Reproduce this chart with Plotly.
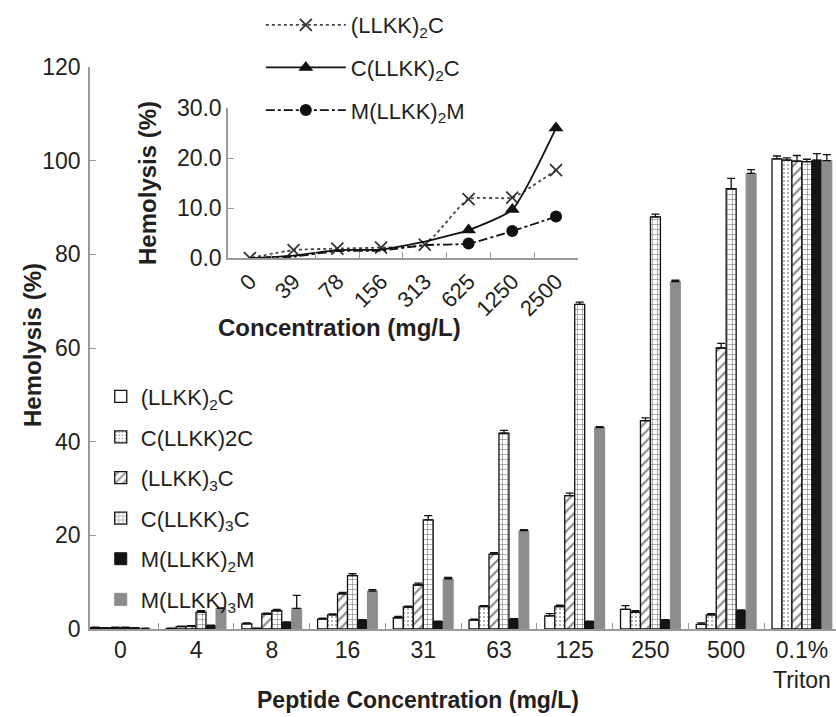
import plotly.graph_objects as go

FONT = "Liberation Sans, Arial, sans-serif"
TXT = "#231f20"

# ---- main bar chart data ----
categories = ["0", "4", "8", "16", "31", "63", "125", "250", "500", "0.1%<br>Triton"]
series_names = ["(LLKK)<sub>2</sub>C", "C(LLKK)2C", "(LLKK)<sub>3</sub>C",
                "C(LLKK)<sub>3</sub>C", "M(LLKK)<sub>2</sub>M", "M(LLKK)<sub>3</sub>M"]

llkk2c = [0.3, 0.1, 1.1, 2.1, 2.4, 1.9, 2.8, 4.2, 1.0, 100.4]
c_llkk2c = [0.2, 0.5, 0.1, 3.0, 4.7, 4.8, 4.8, 3.6, 3.0, 100.1]
llkk3c = [0.3, 0.6, 3.2, 7.5, 9.4, 16.0, 28.5, 44.5, 60.0, 99.9]
c_llkk3c = [0.3, 3.6, 3.9, 11.4, 23.3, 41.8, 69.3, 88.0, 94.0, 99.8]
m_llkk2m = [0.2, 0.7, 1.4, 1.9, 1.6, 2.1, 1.6, 1.9, 3.9, 100.1]
m_llkk3m = [0.1, 4.4, 4.4, 8.1, 10.7, 21.0, 43.0, 74.2, 97.3, 100.0]

err_llkk2c = [0.1, 0.1, 0.2, 0.2, 0.3, 0.2, 0.5, 0.8, 0.3, 0.6]
err_c_llkk2c = [0.1, 0.1, 0.1, 0.2, 0.2, 0.2, 0.3, 0.3, 0.3, 0.5]
err_llkk3c = [0.1, 0.1, 0.2, 0.3, 0.4, 0.3, 0.5, 0.6, 1.0, 1.2]
err_c_llkk3c = [0.1, 0.3, 0.3, 0.4, 0.9, 0.6, 0.5, 0.6, 2.2, 0.5]
err_m_llkk2m = [0.1, 0.1, 0.1, 0.1, 0.1, 0.1, 0.1, 0.1, 0.2, 1.4]
err_m_llkk3m = [0.1, 0.1, 2.8, 0.3, 0.3, 0.2, 0.2, 0.3, 0.8, 1.3]

# ---- inset line chart data ----
inset_categories = ["0", "39", "78", "156", "313", "625", "1250", "2500"]
inset_names = ["(LLKK)<sub>2</sub>C", "C(LLKK)<sub>2</sub>C", "M(LLKK)<sub>2</sub>M"]
inset_llkk2c = [0.0, 1.6, 1.9, 2.1, 2.7, 11.8, 12.1, 17.6]
inset_c_llkk2c = [0.0, 0.5, 1.6, 1.7, 3.3, 5.6, 9.7, 26.0]
inset_m_llkk2m = [0.0, 0.3, 1.4, 1.5, 2.6, 2.9, 5.4, 8.3]

fig = go.Figure()

bar_values = [llkk2c, c_llkk2c, llkk3c, c_llkk3c, m_llkk2m, m_llkk3m]
bar_errs = [err_llkk2c, err_c_llkk2c, err_llkk3c, err_c_llkk3c, err_m_llkk2m, err_m_llkk3m]
styles = [
    dict(color="white", line=dict(color="#111", width=1.3), pattern=dict(shape="")),
    dict(color="white", line=dict(color="#111", width=1.3),
         pattern=dict(shape=".", fgcolor="#333", bgcolor="white", size=4, solidity=0.2)),
    dict(color="white", line=dict(color="#111", width=1.3),
         pattern=dict(shape="/", fgcolor="#111", bgcolor="white", size=7, solidity=0.3)),
    dict(color="white", line=dict(color="#111", width=1.3),
         pattern=dict(shape="+", fgcolor="#111", bgcolor="white", size=5, solidity=0.25)),
    dict(color="#141414", line=dict(color="#141414", width=1)),
    dict(color="#8c8c8e", line=dict(color="#8c8c8e", width=1)),
]

for i, (name, vals, errs, st) in enumerate(zip(series_names, bar_values, bar_errs, styles)):
    fig.add_trace(go.Bar(
        x=categories, y=vals, name=name, marker=st,
        legendgroup=f"g{i}", legend="legend",
        error_y=dict(type="data", array=errs, arrayminus=[0] * len(errs), symmetric=False,
                     color="#111", thickness=1.3, width=4),
        xaxis="x", yaxis="y",
    ))

# markers of the 2nd and 3rd series are only shown for the three highest concentrations;
# points are passed in reverse order so the legend picks up a visible marker colour
TRANSP = "rgba(0,0,0,0)"
line_specs = [
    (inset_llkk2c, dict(dash="dot", width=1.8, color="#444"),
     dict(symbol="x-thin", size=12), ["#333"] * 8),
    (inset_c_llkk2c, dict(dash="solid", width=1.8, color="#111"),
     dict(symbol="triangle-up", size=13), ["#111"] * 3 + [TRANSP] * 5),
    (inset_m_llkk2m, dict(dash="dashdot", width=1.8, color="#111"),
     dict(symbol="circle", size=12), ["#111"] * 3 + [TRANSP] * 5),
]
for j, (name, (vals, ln, mk, colors)) in enumerate(zip(inset_names, line_specs)):
    mk = dict(mk)
    mk["color"] = colors
    if mk["symbol"] == "x-thin":
        mk["line"] = dict(width=1.8, color=colors)
    else:
        mk["line"] = dict(width=0)
    fig.add_trace(go.Scatter(
        x=inset_categories[::-1], y=vals[::-1], name=name, mode="lines+markers",
        line=dict(shape="spline", smoothing=0.5, **ln), marker=mk,
        legend="legend2", legendgroup=f"l{j}",
        xaxis="x2", yaxis="y2",
    ))

fig.update_layout(
    width=836, height=717,
    margin=dict(l=90, r=0, t=67, b=88, autoexpand=False),
    paper_bgcolor="white", plot_bgcolor="rgba(0,0,0,0)",
    font=dict(family=FONT, color=TXT, size=22),
    barmode="group", bargap=0.21, bargroupgap=0,
    showlegend=True,
    xaxis=dict(
        domain=[0, 1], type="category", range=[-0.4, 9.45],
        showline=True, linecolor="#9a9a9a", linewidth=1.5,
        ticks="inside", tickson="boundaries", ticklen=6, tickcolor="#9a9a9a",
        tickfont=dict(size=23, color=TXT), showgrid=False,
    ),
    yaxis=dict(
        domain=[0, 1], range=[0, 120], dtick=20,
        showline=True, linecolor="#9a9a9a", linewidth=1.5,
        ticks="inside", ticklen=6, tickcolor="#9a9a9a", ticklabelstandoff=3,
        tickfont=dict(size=23, color=TXT), showgrid=False, zeroline=False,
    ),
    xaxis2=dict(
        domain=[0.185, 0.654], anchor="y2", type="category", range=[-0.5, 7.5],
        categoryorder="array", categoryarray=inset_categories,
        showline=True, linecolor="#9a9a9a", linewidth=1.5,
        ticks="inside", tickson="boundaries", ticklen=6, tickcolor="#9a9a9a",
        tickangle=-45, tickfont=dict(size=22, color=TXT), showgrid=False,
    ),
    yaxis2=dict(
        domain=[0.66, 0.927], anchor="x2", range=[0, 30], dtick=10, tickformat=".1f",
        showline=True, linecolor="#9a9a9a", linewidth=1.5,
        ticks="inside", ticklen=6, tickcolor="#9a9a9a",
        tickfont=dict(size=23, color=TXT), showgrid=False, zeroline=False,
    ),
    legend=dict(
        x=0.0144, y=0.451, xanchor="left", yanchor="top",
        bgcolor="rgba(0,0,0,0)", font=dict(size=22, color=TXT),
        tracegroupgap=9, traceorder="grouped",
    ),
    legend2=dict(
        x=0.229, y=1.112, xanchor="left", yanchor="top",
        bgcolor="rgba(0,0,0,0)", font=dict(size=22, color=TXT),
        tracegroupgap=11, itemwidth=80, traceorder="grouped",
    ),
    annotations=[
        dict(text="<b>Peptide Concentration (mg/L)</b>", xref="paper", yref="paper",
             x=0.44, y=-0.126, xanchor="center", yanchor="middle", showarrow=False,
             font=dict(size=23, color=TXT)),
        dict(text="<b>Hemolysis (%)</b>", xref="paper", yref="paper", textangle=-90,
             x=-0.078, y=0.505, xanchor="center", yanchor="middle", showarrow=False,
             font=dict(size=24, color=TXT)),
        dict(text="<b>Concentration (mg/L)</b>", xref="paper", yref="paper",
             x=0.335, y=0.537, xanchor="center", yanchor="middle", showarrow=False,
             font=dict(size=24, color=TXT)),
        dict(text="<b>Hemolysis (%)</b>", xref="paper", yref="paper", textangle=-90,
             x=0.078, y=0.794, xanchor="center", yanchor="middle", showarrow=False,
             font=dict(size=24, color=TXT)),
    ],
)

fig.write_html("out.html", config={"displayModeBar": False},
               post_script="document.body.style.margin='0';document.body.style.overflow='hidden';")
